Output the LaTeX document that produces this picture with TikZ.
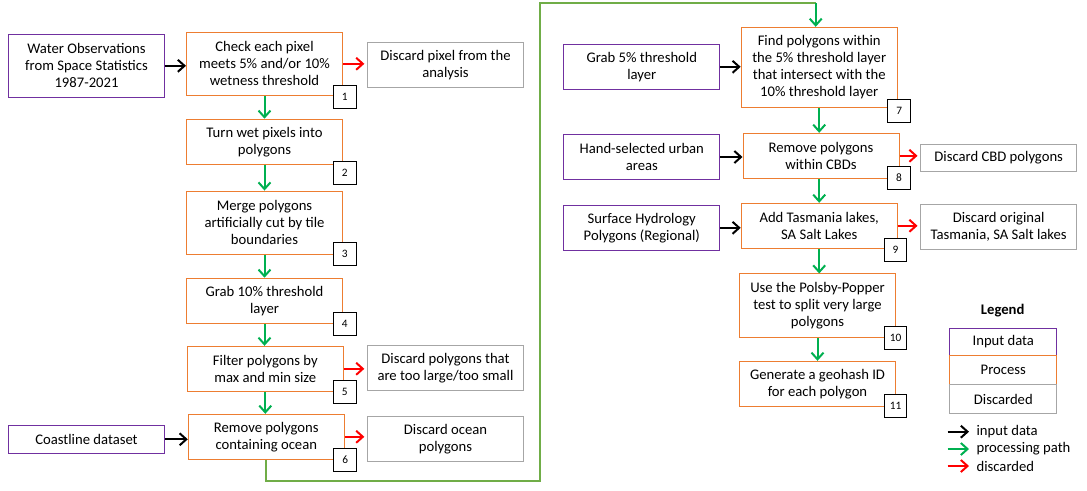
\documentclass[tikz,border=0pt]{standalone}
\usepackage{fontspec}
\setmainfont{Carlito}
\usetikzlibrary{arrows.meta,calc,positioning}
\definecolor{inputpurple}{HTML}{7030A0}
\definecolor{procorange}{HTML}{ED7D31}
\definecolor{discgray}{HTML}{A6A6A6}
\definecolor{flowgreen}{HTML}{00B050}
\definecolor{linkgreen}{HTML}{70AD47}
\definecolor{discred}{HTML}{FF0000}

\begin{document}
\begin{tikzpicture}[
  x=0.75pt,y=-0.75pt,
  font=\fontsize{11}{12.8}\selectfont,
  box/.style={draw,fill=white,line width=0.75pt,align=center,
              minimum width=117pt,minimum height=33.75pt,inner sep=2pt},
  inputbox/.style={box,draw=inputpurple},
  procbox/.style={box,draw=procorange},
  discbox/.style={box,draw=discgray},
  numbox/.style={draw=black,fill=white,line width=0.75pt,minimum size=17pt,
                 inner sep=0pt,font=\fontsize{8.5}{9}\selectfont},
  inflow/.style={draw=black,line width=1.5pt,
                 -{Straight Barb[length=5pt,width=9pt]}},
  procflow/.style={inflow,draw=flowgreen},
  discflow/.style={inflow,draw=discred,shorten >=2pt},
  longpath/.style={draw=linkgreen,line width=1.5pt},
  legtext/.style={anchor=west,inner sep=0pt,inner xsep=5.5pt}
]
\useasboundingbox (0,0) rectangle (1087,490);

% -------------------------------------------------------------------------
% Left column.
\node[inputbox,minimum height=47.25pt] (wos) at (86.5,65.8)
  {Water Observations\\from Space Statistics\\1987-2021};
\node[procbox,minimum height=47.25pt] (p1) at (264.5,63.8)
  {Check each pixel\\meets 5\% and/or 10\%\\wetness threshold};
\node[procbox] (p2) at (264.5,141.7) {Turn wet pixels into\\polygons};
\node[procbox,minimum height=47.5pt] (p3) at (264.5,222.7)
  {Merge polygons\\artificially cut by tile\\boundaries};
\node[procbox] (p4) at (264.5,300.7) {Grab 10\% threshold\\layer};
\node[procbox] (p5) at (265.3,368.8) {Filter polygons by\\max and min size};
\node[procbox] (p6) at (266.3,436.8) {Remove polygons\\containing ocean};
\node[inputbox,minimum height=21pt] (coast) at (86.5,439.3) {Coastline dataset};

\node[discbox] (d1) at (445.5,65) {Discard pixel from the\\analysis};
\node[discbox] (d5) at (445.5,368) {Discard polygons that\\are too large/too small};
\node[discbox] (d6) at (445.5,438.8) {Discard ocean\\polygons};

\draw[inflow] (wos.east) -- (wos.east -| p1.west);
\draw[discflow] (p1.east) -- (p1.east -| d1.west);
\draw[procflow] (p1.south) -- (p2.north);
\draw[procflow] (p2.south) -- (p3.north);
\draw[procflow] (p3.south) -- (p4.north);
\draw[procflow] (p4.south) -- (p4.south |- p5.north);
\draw[discflow] (p5.east) -- (p5.east -| d5.west);
\draw[procflow] (p5.south) -- (p5.south |- p6.north);
\draw[inflow] (coast.east) -- (coast.east -| p6.west);
\draw[discflow] (p6.east) -- (p6.east -| d6.west);

% Long link to the right column.
\coordinate (bendlow) at (540,480.7);
\coordinate (bendtop) at (815.7,3);
\draw[longpath] (p6.south) |- (bendlow) |- (bendtop);

% -------------------------------------------------------------------------
% Right column.
\node[inputbox] (grab5) at (641.8,66.8) {Grab 5\% threshold\\layer};
\node[procbox,minimum height=60pt] (p7) at (819.2,67.3)
  {Find polygons within\\the 5\% threshold layer\\that intersect with the\\10\% threshold layer};
\node[inputbox] (urban) at (641.8,157) {Hand-selected urban\\areas};
\node[procbox] (p8) at (821,155.8) {Remove polygons\\within CBDs};
\node[discbox,minimum height=20pt] (dcbd) at (998.7,158) {Discard CBD polygons};
\node[inputbox] (hydro) at (641.8,227.8) {Surface Hydrology\\Polygons (Regional)};
\node[procbox] (p9) at (819.2,225.8) {Add Tasmania lakes,\\SA Salt Lakes};
\node[discbox] (dtas) at (998.7,226.8) {Discard original\\Tasmania, SA Salt lakes};
\node[procbox,minimum height=47.75pt] (p10) at (817.5,305.8)
  {Use the Polsby-Popper\\test to split very large\\polygons};
\node[procbox] (p11) at (817.5,383.8) {Generate a geohash ID\\for each polygon};

\draw[procflow] (bendtop) -- (bendtop |- p7.north);
\draw[inflow] (grab5.east) -- (grab5.east -| p7.west);
\draw[procflow] (p7.south) -- (p7.south |- p8.north);
\draw[inflow] (urban.east) -- (urban.east -| p8.west);
\draw[discflow] (p8.east) -- (p8.east -| dcbd.west);
\draw[procflow] (p9.north |- p8.south) -- (p9.north);
\draw[inflow] (hydro.east) -- (hydro.east -| p9.west);
\draw[discflow] (p9.east) -- (p9.east -| dtas.west);
\draw[procflow] (p9.south) -- (p9.south |- p10.north);
\draw[procflow] (p10.south) -- (p11.north);

% Step numbers.
\node[numbox] (n1) at (344.8,97.2) {1};
\node[numbox] (n2) at (344.8,172.7) {2};
\node[numbox] (n3) at (344.8,254) {3};
\node[numbox] (n4) at (344.8,324) {4};
\node[numbox] (n5) at (344.8,392.3) {5};
\node[numbox] (n6) at (345.3,459.7) {6};
\node[numbox] (n7) at (899.3,110.8) {7};
\node[numbox] (n8) at (899,177.8) {8};
\node[numbox] (n9) at (895.5,250.3) {9};
\node[numbox] (n10) at (895.5,337.8) {10};
\node[numbox] (n11) at (895.5,406.3) {11};

% -------------------------------------------------------------------------
% Legend.
\node[font=\fontsize{11}{13}\selectfont\bfseries] (legend) at (1002.7,310.7) {Legend};
\node[inputbox,minimum width=80pt,minimum height=20.5pt] (lin) at (1003.3,342) {Input data};
\node[procbox,minimum width=80pt,minimum height=22pt] (lproc) at (1003.3,370.3) {Process};
\node[discbox,minimum width=80pt,minimum height=21.5pt] (ldisc) at (1003.3,399.3) {Discarded};

\node[legtext] (kin) at (969,431.7) {input data};
\node[legtext] (kproc) at (969,449) {processing path};
\node[legtext] (kdisc) at (969,466) {discarded};
\coordinate (kin0) at (947.7,431.7);
\coordinate (kproc0) at (947.7,449);
\coordinate (kdisc0) at (947.7,466);
\draw[inflow] (kin0) -- (kin.west);
\draw[procflow] (kproc0) -- (kproc.west);
\draw[inflow,draw=discred] (kdisc0) -- (kdisc.west);

\end{tikzpicture}
\end{document}
